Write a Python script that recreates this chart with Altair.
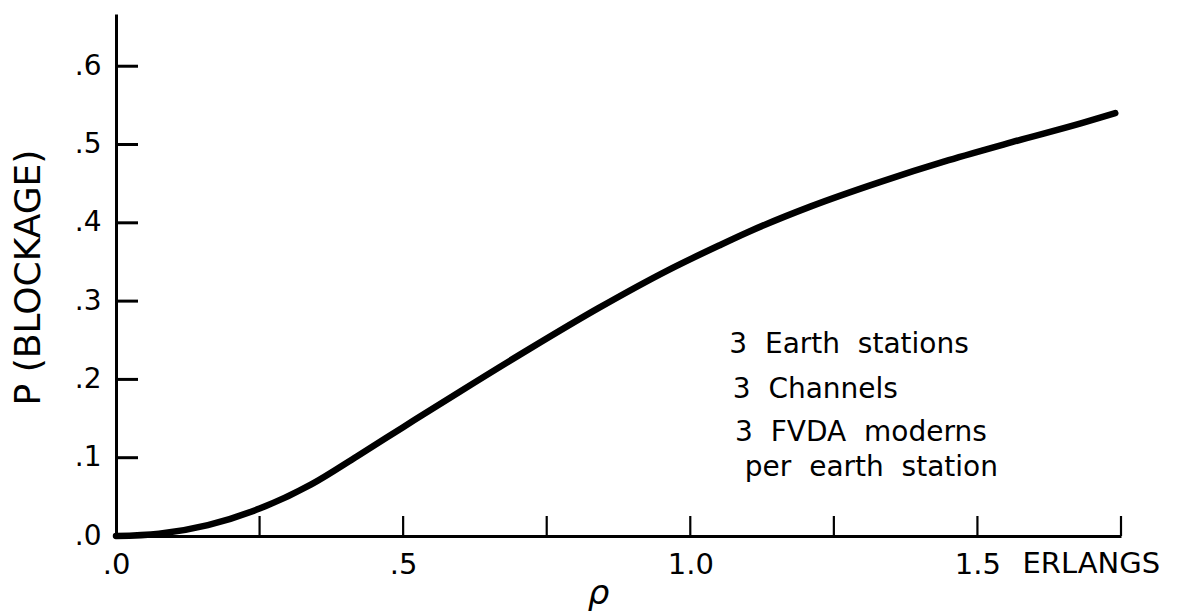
import altair as alt
import pandas as pd

# Offered load (Erlangs) and the resulting blocking probability
rho = [0.0, 0.075, 0.16, 0.25, 0.34, 0.42, 0.50, 0.60, 0.72, 0.84,
       0.96, 1.05, 1.10, 1.21, 1.33, 1.45, 1.56, 1.68, 1.74]
p_block = [0.0, 0.003, 0.014, 0.035, 0.066, 0.102, 0.139, 0.185, 0.239, 0.291,
           0.339, 0.371, 0.388, 0.421, 0.452, 0.480, 0.503, 0.527, 0.540]

# Axis tick positions and labelled values
x_ticks = [0.25, 0.5, 0.75, 1.0, 1.25, 1.5, 1.75]
x_labels = [0.0, 0.5, 1.0, 1.5]
y_ticks = [0.1, 0.2, 0.3, 0.4, 0.5, 0.6]
y_labels = [0.0, 0.1, 0.2, 0.3, 0.4, 0.5, 0.6]

# Legend-style note placed inside the plot (anchored in data units)
note_text = ["3 \u00a0Earth \u00a0stations", "3 \u00a0Channels",
             "3 \u00a0FVDA \u00a0moderns", "per \u00a0earth \u00a0station"]
note_x = [1.068, 1.074, 1.078, 1.095]
note_y = [0.2337, 0.1762, 0.1215, 0.0760]

FONT = "DejaVu Sans"
W, H = 1005, 522

curve = pd.DataFrame({"rho": rho, "p": p_block})
notes = pd.DataFrame({"text": note_text, "x": note_x, "y": note_y})

xscale = alt.Scale(domain=[0, 1.75], nice=False, zero=False)
yscale = alt.Scale(domain=[0, 0.6667], nice=False, zero=False)

short_fmt = "datum.value < 1 ? replace(format(datum.value, '.1f'), '0.', '.') : format(datum.value, '.1f')"

x_axis = alt.Axis(
    values=x_labels, labelExpr=short_fmt, ticks=False, tickSize=0, grid=False,
    domainColor="black", domainWidth=3, labelFont=FONT, labelFontSize=29,
    labelColor="black", labelBaseline="alphabetic", labelPadding=37,
    labelAlign="center", labelFlush=False,
    title="ρ", titleFont=FONT, titleFontSize=34, titleFontStyle="italic",
    titleFontWeight="normal", titleColor="black", titleX=482, titleY=67,
    titleBaseline="alphabetic", titleAlign="center",
)
y_axis = alt.Axis(
    values=y_labels, labelExpr=short_fmt, ticks=False, tickSize=0, grid=False,
    domainColor="black", domainWidth=3, labelFont=FONT, labelFontSize=28,
    labelColor="black", labelPadding=15, labelBaseline="middle", labelFlush=False,
    title="P (BLOCKAGE)", titleFont=FONT, titleFontSize=36, titleFontWeight="normal",
    titleColor="black", titleX=-88, titleY=H / 2 + 2, titleAngle=270,
    titleBaseline="middle", titleAlign="center",
)

line = alt.Chart(curve).mark_line(
    color="black", strokeWidth=6.5, strokeCap="round", interpolate="monotone"
).encode(
    x=alt.X("rho:Q", scale=xscale, axis=x_axis),
    y=alt.Y("p:Q", scale=yscale, axis=y_axis),
)

# Inward-pointing tick marks
yt = alt.Chart(pd.DataFrame({"v": y_ticks})).mark_rule(color="black", strokeWidth=3).encode(
    y=alt.Y("v:Q", scale=yscale), x=alt.value(0), x2=alt.value(22)
)
xt = alt.Chart(pd.DataFrame({"v": x_ticks})).mark_rule(color="black", strokeWidth=2.2).encode(
    x=alt.X("v:Q", scale=xscale), y=alt.value(H), y2=alt.value(H - 20)
)

unit = alt.Chart(pd.DataFrame({"v": [1.5]})).mark_text(
    text="ERLANGS", font=FONT, fontSize=29, align="left", baseline="alphabetic",
    dx=45, dy=37, color="black",
).encode(x=alt.X("v:Q", scale=xscale), y=alt.datum(0, scale=yscale))

note = alt.Chart(notes).mark_text(
    font=FONT, fontSize=28, align="left", baseline="alphabetic", color="black"
).encode(
    x=alt.X("x:Q", scale=xscale), y=alt.Y("y:Q", scale=yscale), text="text:N"
)

chart = alt.layer(line, yt, xt, unit, note).properties(
    width=W, height=H,
    autosize=alt.AutoSizeParams(type="none"),
    padding={"left": 116, "top": 14, "right": 56, "bottom": 79},
    background="white",
).configure_view(stroke=None)

chart.save("out.html", embed_options={"renderer": "svg", "actions": False})
